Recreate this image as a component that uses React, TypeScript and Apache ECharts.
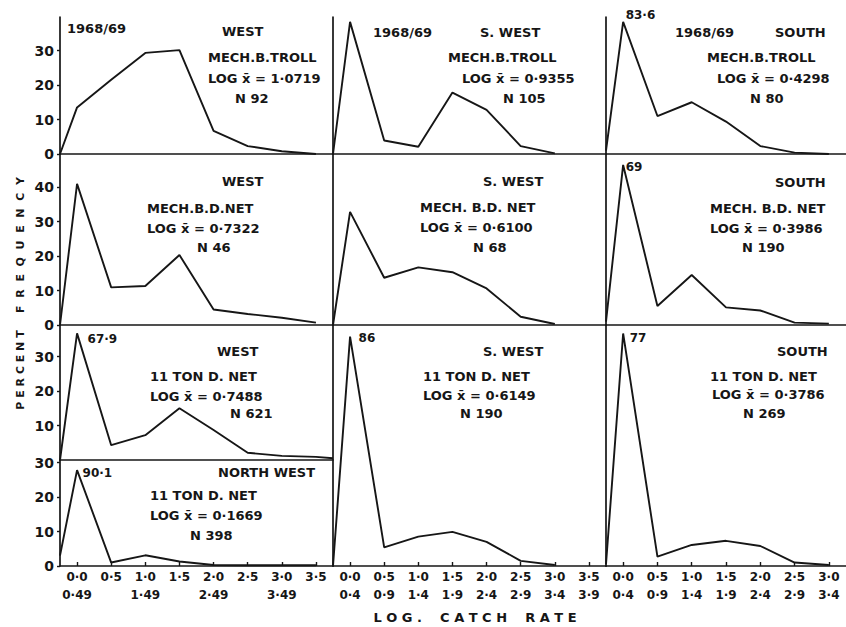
import React, { useEffect, useRef } from 'react';
import * as echarts from 'echarts';

// ---- axis labels ----
const classLower = ['0·0', '0·5', '1·0', '1·5', '2·0', '2·5', '3·0', '3·5'];
const westUpper = ['0·49', '', '1·49', '', '2·49', '', '3·49', ''];
const classUpper = ['0·4', '0·9', '1·4', '1·9', '2·4', '2·9', '3·4', '3·9'];
const yTicksRow1 = [0, 10, 20, 30];
const yTicksRow2 = [0, 10, 20, 30, 40];
const yTicksRow3 = [10, 20, 30];
const yTicksRow4 = [0, 10, 20, 30];

// ---- percent frequency (first value = left edge, then class 0..n) ----
const westTroll = [0, 13.5, 21.5, 29.3, 30.1, 6.7, 2.3, 0.8, 0];
const swTroll = [0, 38.3, 3.9, 2.1, 17.8, 12.8, 2.3, 0.2];
const southTroll = [1, 38.3, 11.0, 15.0, 9.4, 2.3, 0.4, 0];
const westBD = [0, 40.9, 10.9, 11.3, 20.3, 4.5, 3.2, 2.1, 0.7];
const swBD = [0, 32.8, 13.7, 16.7, 15.3, 10.6, 2.4, 0.3];
const southBD = [1, 46.4, 5.5, 14.5, 5.1, 4.2, 0.7, 0.4];
const west11 = [0, 36.7, 4.3, 7.2, 15.0, 8.7, 2.1, 1.2, 0.9, 0.5];
const nw11 = [3, 27.8, 1.0, 3.1, 1.3, 0.3, 0.2, 0.2, 0.2];
const sw11 = [0, 66.5, 5.4, 8.5, 9.9, 7.0, 1.5, 0.3];
const south11 = [0.5, 67.4, 2.7, 6.1, 7.3, 5.8, 1.0, 0.3];

// ---- peak annotations (true values of truncated peaks) ----
const peakSouthTroll = '83·6';
const peakSouthBD = '69';
const peakWest11 = '67·9';
const peakNw11 = '90·1';
const peakSw11 = '86';
const peakSouth11 = '77';

// ---- panel texts ----
const txtWestTroll = ['1968/69', 'WEST', 'MECH.B.TROLL', 'LOG x̄ = 1·0719', 'N 92'];
const txtSwTroll = ['1968/69', 'S. WEST', 'MECH.B.TROLL', 'LOG x̄ = 0·9355', 'N 105'];
const txtSouthTroll = ['1968/69', 'SOUTH', 'MECH.B.TROLL', 'LOG x̄ = 0·4298', 'N 80'];
const txtWestBD = ['WEST', 'MECH.B.D.NET', 'LOG x̄ = 0·7322', 'N 46'];
const txtSwBD = ['S. WEST', 'MECH. B.D. NET', 'LOG x̄ = 0·6100', 'N 68'];
const txtSouthBD = ['SOUTH', 'MECH. B.D. NET', 'LOG x̄ = 0·3986', 'N 190'];
const txtWest11 = ['WEST', '11 TON D. NET', 'LOG x̄ = 0·7488', 'N 621'];
const txtNw11 = ['NORTH WEST', '11 TON D. NET', 'LOG x̄ = 0·1669', 'N 398'];
const txtSw11 = ['S. WEST', '11 TON D. NET', 'LOG x̄ = 0·6149', 'N 190'];
const txtSouth11 = ['SOUTH', '11 TON D. NET', 'LOG x̄ = 0·3786', 'N 269'];

const yTitle1 = 'F  R  E  Q  U  E  N  C  Y';
const yTitle2 = 'P E R C E N T';
const xTitle = 'L O G .    C A T C H    R A T E';

const PX_PER_UNIT = 3.45;
const INK = '#161616';
const FONT = 'DejaVu Sans';

type Panel = {
  data: number[];
  left: number; top: number; width: number; height: number;
  classes: number; yTicks: number[]; xLower?: string[]; xUpper?: string[];
  endAtEdge?: boolean;
  peak?: string; peakOff?: number[];
  texts: string[]; textPos: number[][];
};

const panels: Panel[] = [
  { data: westTroll, left: 60, top: 17, width: 273, height: 137, classes: 8, yTicks: yTicksRow1,
    texts: txtWestTroll, textPos: [[67, 28], [222, 31], [208, 57], [208, 78], [235, 98]] },
  { data: swTroll, left: 333, top: 17, width: 273, height: 137, classes: 8, yTicks: [],
    texts: txtSwTroll, textPos: [[373, 32], [480, 32], [448, 57], [462, 78], [503, 98]] },
  { data: southTroll, left: 606, top: 17, width: 240, height: 137, classes: 7, yTicks: [],
    peak: peakSouthTroll, peakOff: [2, -7],
    texts: txtSouthTroll, textPos: [[675, 32], [775, 32], [707, 57], [717, 78], [750, 98]] },
  { data: westBD, left: 60, top: 154, width: 273, height: 171, classes: 8, yTicks: yTicksRow2,
    texts: txtWestBD, textPos: [[222, 181], [147, 208], [147, 228], [197, 247]] },
  { data: swBD, left: 333, top: 154, width: 273, height: 171, classes: 8, yTicks: [],
    texts: txtSwBD, textPos: [[483, 181], [420, 207], [420, 227], [473, 247]] },
  { data: southBD, left: 606, top: 154, width: 240, height: 171, classes: 7, yTicks: [],
    peak: peakSouthBD, peakOff: [2, 2],
    texts: txtSouthBD, textPos: [[775, 182], [710, 208], [710, 228], [742, 247]] },
  { data: west11, left: 60, top: 325, width: 273, height: 135, classes: 8, yTicks: yTicksRow3,
    endAtEdge: true, peak: peakWest11, peakOff: [10, 6],
    texts: txtWest11, textPos: [[217, 351], [150, 376], [150, 396], [230, 413]] },
  { data: nw11, left: 60, top: 460, width: 273, height: 106, classes: 8, yTicks: yTicksRow4,
    xLower: classLower, xUpper: westUpper, peak: peakNw11, peakOff: [5, 3],
    texts: txtNw11, textPos: [[218, 472], [150, 495], [150, 515], [190, 535]] },
  { data: sw11, left: 333, top: 325, width: 273, height: 241, classes: 8, yTicks: [],
    xLower: classLower, xUpper: classUpper, peak: peakSw11, peakOff: [8, 1],
    texts: txtSw11, textPos: [[483, 351], [423, 376], [423, 395], [460, 413]] },
  { data: south11, left: 606, top: 325, width: 240, height: 241, classes: 7, yTicks: [],
    xLower: classLower, xUpper: classUpper, peak: peakSouth11, peakOff: [6, 5],
    texts: txtSouth11, textPos: [[777, 351], [710, 376], [712, 394], [743, 413]] },
];

function buildOption() {
  const grid: any[] = [];
  const xAxis: any[] = [];
  const yAxis: any[] = [];
  const series: any[] = [];
  const graphic: any[] = [];

  panels.forEach((p, i) => {
    grid.push({ left: p.left, top: p.top, width: p.width, height: p.height, containLabel: false });
    const mids = Array.from({ length: p.classes }, (_, k) => k);
    const hasX = !!p.xLower;
    xAxis.push({
      type: 'value', gridIndex: i, min: -0.5, max: p.classes - 0.5,
      axisLine: { show: true, onZero: false, lineStyle: { color: INK, width: 1.7 } },
      axisTick: hasX ? { show: true, inside: true, length: 4, customValues: mids, lineStyle: { color: INK, width: 1.4 } } : { show: false },
      axisLabel: hasX ? {
        show: true, customValues: mids, margin: 2, color: INK, fontSize: 12, fontWeight: 'bold',
        fontFamily: FONT, lineHeight: 18,
        formatter: (v: number) => {
          const k = Math.round(v);
          const up = (p.xUpper as string[])[k] || ' ';
          return (p.xLower as string[])[k] + '\n' + up;
        },
      } : { show: false },
      splitLine: { show: false },
    });
    const hasY = p.yTicks.length > 0;
    yAxis.push({
      type: 'value', gridIndex: i, min: 0, max: p.height / PX_PER_UNIT,
      axisLine: { show: true, onZero: false, lineStyle: { color: INK, width: 1.7 } },
      axisTick: hasY ? { show: true, length: 3, customValues: p.yTicks, lineStyle: { color: INK, width: 1.4 } } : { show: false },
      axisLabel: hasY ? { show: true, customValues: p.yTicks, margin: 6, color: INK, fontSize: 14, fontWeight: 'bold', fontFamily: FONT } : { show: false },
      splitLine: { show: false },
    });
    const pts: number[][] = [[-0.5, p.data[0]]];
    const n = p.endAtEdge ? p.data.length - 2 : p.data.length - 1;
    for (let k = 0; k < n; k++) pts.push([k, p.data[k + 1]]);
    if (p.endAtEdge) pts.push([p.classes - 0.5, p.data[p.data.length - 1]]);
    const s: any = {
      type: 'line', xAxisIndex: i, yAxisIndex: i, data: pts, symbol: 'none', clip: false,
      lineStyle: { color: INK, width: 1.9 }, silent: true,
    };
    if (p.peak) {
      s.markPoint = {
        symbol: 'circle', symbolSize: 1, itemStyle: { color: 'rgba(0,0,0,0)' },
        data: [{
          coord: pts[1],
          label: {
            show: true, formatter: p.peak, position: 'right', distance: 0, offset: p.peakOff,
            color: INK, fontSize: 12, fontWeight: 'bold', fontFamily: FONT,
          },
        }],
      };
    }
    series.push(s);
    p.texts.forEach((t, j) => {
      graphic.push({
        type: 'text', x: p.textPos[j][0], y: p.textPos[j][1], silent: true,
        style: { text: t, fill: INK, fontSize: 13, fontWeight: 'bold', fontFamily: FONT, align: 'left', verticalAlign: 'middle' },
      });
    });
  });

  graphic.push({
    type: 'text', x: 20, y: 245, rotation: Math.PI / 2, silent: true,
    style: { text: yTitle1, fill: INK, fontSize: 11, fontWeight: 'bold', fontFamily: FONT, align: 'center', verticalAlign: 'middle' },
  });
  graphic.push({
    type: 'text', x: 20, y: 370, rotation: Math.PI / 2, silent: true,
    style: { text: yTitle2, fill: INK, fontSize: 11, fontWeight: 'bold', fontFamily: FONT, align: 'center', verticalAlign: 'middle' },
  });
  graphic.push({
    type: 'text', x: 475, y: 617, silent: true,
    style: { text: xTitle, fill: INK, fontSize: 13, fontWeight: 'bold', fontFamily: FONT, align: 'center', verticalAlign: 'middle' },
  });

  return {
    animation: false,
    backgroundColor: '#ffffff',
    grid, xAxis, yAxis, series, graphic,
  };
}

export default function App() {
  const ref = useRef<HTMLDivElement>(null);
  useEffect(() => {
    if (!ref.current) return;
    const chart = echarts.init(ref.current, null, { renderer: 'svg' });
    chart.setOption(buildOption() as any);
    return () => chart.dispose();
  }, []);
  return (
    <div
      ref={ref}
      style={{ position: 'fixed', left: 0, top: 0, width: 846, height: 627, background: '#fff' }}
    />
  );
}
